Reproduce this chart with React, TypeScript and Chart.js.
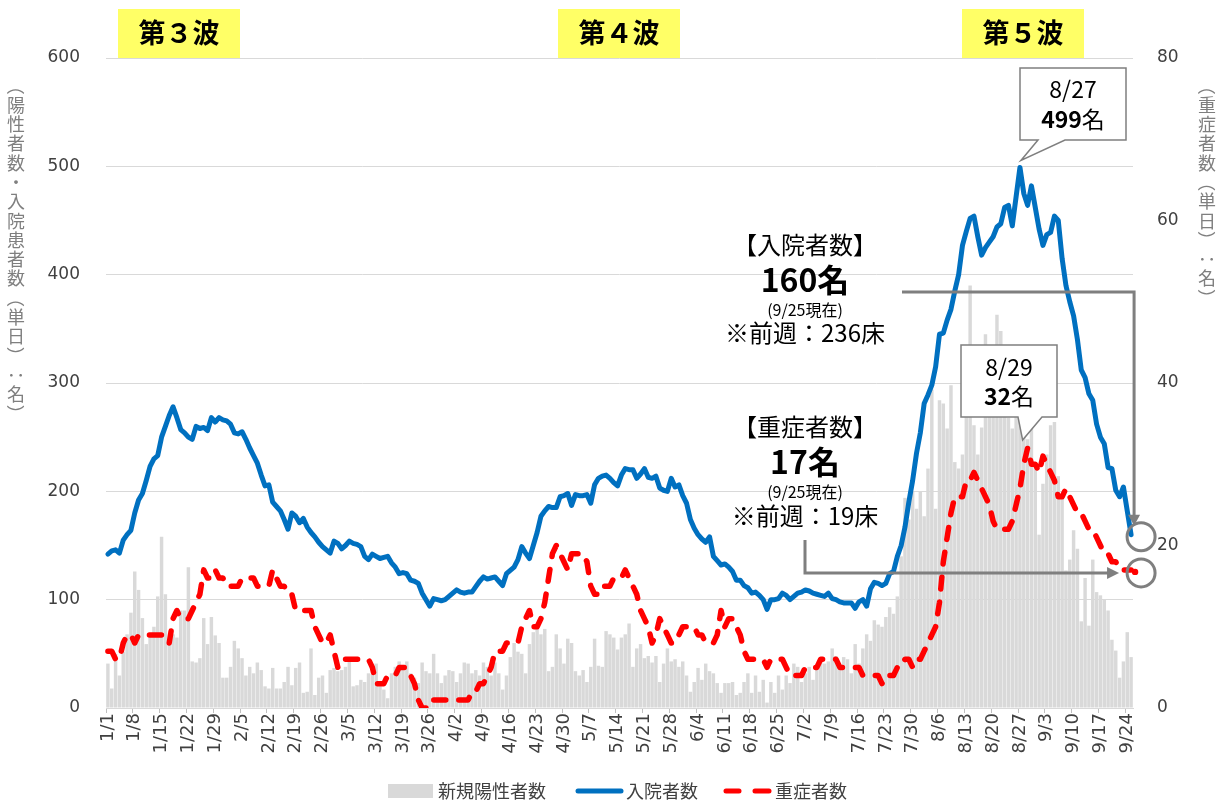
import React, { useEffect, useRef } from 'react';
import { Chart, registerables } from 'chart.js';

Chart.register(...registerables);

// ---- categories (daily, 1/1 .. 9/25) ----
const MONTH_LENGTHS = [31, 28, 31, 30, 31, 30, 31, 31, 25];
const dateLabels: string[] = [];
MONTH_LENGTHS.forEach((n, m) => {
  for (let d = 1; d <= n; d++) dateLabels.push(`${m + 1}/${d}`);
});

// ---- series: new positive cases (bars, left axis) ----
const newCases = [
  41, 18, 50, 30, 52, 68, 88, 126, 109, 83, 59, 68, 75, 103, 158, 105, 59, 68, 65, 90,
  90, 130, 43, 42, 46, 83, 59, 84, 67, 60, 28, 28, 38, 62, 55, 46, 30, 38, 32, 42,
  35, 20, 18, 37, 18, 18, 24, 38, 21, 37, 42, 14, 15, 55, 12,
  28, 30, 14, 35, 37, 34, 35, 38, 43, 20, 21, 26, 24, 32, 32, 41, 20, 17, 9, 32,
  38, 43, 37, 43, 32, 28, 23, 42, 34, 32, 50, 32, 23, 30, 35, 34, 24, 32, 42, 41,
  32, 35, 30, 42, 38, 30, 42, 32, 17, 30, 47, 60, 52,
  50, 32, 59, 70, 73, 68, 73, 34, 38, 68, 55, 41, 64, 60, 34, 30, 35, 24, 38, 64,
  39, 38, 71, 68, 65, 54, 65, 68, 78, 38, 55, 59, 46, 48, 42, 48, 24, 41, 55, 43,
  45, 38, 43, 30, 15, 24, 37, 26, 41, 34, 32, 23, 14, 23, 23, 24, 12,
  14, 24, 32, 14, 30, 15, 26, 5, 24, 14, 30, 17, 30, 23, 41, 38, 24, 32, 38, 26,
  39, 47, 41, 43, 55, 48, 39, 47, 45, 32, 59, 41, 55, 68, 62, 81, 77, 75, 84, 93, 87,
  103, 140, 194, 174, 200, 184, 200, 177, 221, 294, 184, 284, 281, 258, 298, 227, 221, 234, 281, 390,
  261, 234, 259, 345, 328, 335, 363, 348, 288, 268, 258, 281, 268, 251,
  248, 268, 221, 160, 207, 234, 261, 264, 214, 197, 127, 137, 164, 147, 80, 120, 76, 137, 107, 104,
  100, 90, 63, 53, 28, 43, 70, 47,
];

// ---- series: hospitalized (blue line, left axis) ----
const hospitalized = [
  142, 145, 146, 143, 155, 160, 164, 180, 192, 198,
  210, 223, 230, 233, 250, 260, 270, 278, 268, 257,
  254, 250, 248, 260, 258, 259, 256, 268, 264, 268,
  266, 265, 262, 254, 253, 255, 248, 240, 233, 226,
  215, 205, 206, 190, 186, 182, 174, 165, 180, 177,
  171, 175, 167, 162, 158, 153, 149, 146, 143, 154,
  152, 147, 150, 154, 152, 151, 149, 140, 137, 142,
  140, 138, 139, 140, 134, 130, 124, 125, 124, 118,
  117, 115, 106, 100, 94, 101, 100, 99, 100, 103,
  106, 109, 107, 106, 107, 107, 112, 117, 121, 119,
  120, 121, 117, 113, 124, 127, 130, 137, 149, 143,
  138, 150, 162, 177, 182, 186, 185, 185, 195, 196,
  198, 187, 197, 196, 196, 197, 189, 206, 212, 214,
  215, 212, 208, 205, 215, 221, 220, 220, 212, 216,
  221, 213, 212, 214, 203, 201, 200, 212, 204, 206,
  196, 189, 174, 166, 160, 156, 153, 158, 140, 136,
  132, 133, 130, 126, 118, 118, 113, 111, 106, 107,
  104, 100, 91, 100, 100, 101, 106, 104, 100, 103,
  106, 107, 109, 108, 106, 105, 104, 103, 106, 101,
  100, 98, 97, 97, 97, 92, 98, 100, 94, 110,
  116, 115, 113, 115, 124, 126, 140, 150, 167, 190,
  210, 235, 254, 281, 289, 298, 315, 345, 346, 358,
  368, 385, 400, 427, 440, 452, 454, 435, 418, 425,
  430, 435, 444, 447, 462, 464, 445, 472, 499, 475,
  464, 482, 462, 442, 427, 437, 439, 454, 450, 415,
  390, 375, 362, 340, 312, 305, 290, 284, 262, 250,
  244, 222, 221, 201, 195, 204, 182, 160,
];

// ---- series: severe cases (red dashed line, right axis) ----
const severe = [
  7, 7, 6, 6, 8, 9, 9, 8, 9, 9,
  9, 9, 9, 9, 9, 9, 8, 11, 12, 11,
  11, 11, 12, 13, 14, 17, 16, 16, 17, 16,
  16, 15, 15, 15, 15, 16, 16, 16, 16, 15,
  15, 15, 15, 17, 16, 15, 15, 14, 14, 12,
  12, 12, 12, 12, 10, 9, 8, 8, 9, 7,
  5, 5, 6, 6, 6, 6, 6, 6, 6, 5,
  3, 3, 3, 4, 4, 4, 5, 5, 5, 4,
  3, 1, 0, 0, 1, 1, 1, 1, 1, 1,
  1, 1, 1, 1, 1, 2, 2, 3, 3, 4,
  5, 7, 7, 7, 8, 8, 8, 8, 10, 11,
  12, 10, 10, 11, 13, 16, 19, 20, 19, 18,
  17, 19, 19, 19, 19, 18, 15, 14, 14, 15,
  15, 15, 16, 16, 16, 17, 16, 15, 14, 12,
  11, 10, 8, 9, 11, 10, 9, 8, 8, 9,
  10, 10, 10, 10, 9, 9, 8, 8, 8, 9,
  12, 10, 11, 11, 10, 9, 7, 6, 6, 6,
  6, 6, 5, 6, 6, 6, 6, 5, 4, 4,
  4, 4, 5, 5, 5, 5, 6, 6, 6, 6,
  6, 5, 5, 5, 5, 5, 5, 4, 4, 4,
  4, 4, 3, 4, 4, 4, 5, 5, 6, 6,
  5, 6, 6, 7, 8, 9, 10, 13, 18, 21,
  24, 26, 26, 26, 28, 28, 29, 28, 27, 26,
  25, 23, 22, 22, 22, 22, 23, 25, 27, 30,
  32, 30, 30, 29, 31, 30, 29, 28, 26, 26,
  27, 26, 25, 24, 24, 23, 22, 22, 21, 20,
  19, 19, 18, 18, 17, 17, 17, 17,
];

// ---- axis ticks / texts ----
const leftTicks = [0, 100, 200, 300, 400, 500, 600];
const rightTicks = [0, 20, 40, 60, 80];
const leftTitle = '（陽性者数・入院患者数（単日）：名）';
const rightTitle = '（重症者数（単日）：名）';
const waveLabels = ['第３波', '第４波', '第５波'];
const legendNames = ['新規陽性者数', '入院者数', '重症者数'];

const JP = '"Noto Sans CJK JP", "Noto Sans", sans-serif';
const NUM = '"DejaVu Sans", sans-serif';
const GRAY = '#7f7f7f';
const BLUE = '#0070c0';
const RED = '#ff0000';
const BAR = '#d9d9d9';

function drawRuns(ctx: CanvasRenderingContext2D, parts: [string, string][], cx: number, cy: number, color = '#000') {
  let total = 0;
  parts.forEach(([t, f]) => {
    ctx.font = f;
    total += ctx.measureText(t).width;
  });
  let x = cx - total / 2;
  ctx.textBaseline = 'middle';
  ctx.textAlign = 'left';
  ctx.fillStyle = color;
  parts.forEach(([t, f]) => {
    ctx.font = f;
    ctx.fillText(t, x, cy);
    x += ctx.measureText(t).width;
  });
}

function drawVertical(ctx: CanvasRenderingContext2D, text: string, cx: number, top: number, pitch: number) {
  ctx.save();
  ctx.font = `18px ${JP}`;
  ctx.fillStyle = GRAY;
  ctx.textAlign = 'center';
  ctx.textBaseline = 'middle';
  Array.from(text).forEach((ch, i) => {
    const cy = top + pitch * (i + 0.5);
    if ('（）：'.includes(ch)) {
      ctx.save();
      ctx.translate(cx, cy);
      ctx.rotate(Math.PI / 2);
      ctx.fillText(ch, 0, 0);
      ctx.restore();
    } else {
      ctx.fillText(ch, cx, cy);
    }
  });
  ctx.restore();
}

function callout(
  ctx: CanvasRenderingContext2D,
  l: number, t: number, r: number, b: number,
  p1: number, p2: number, tx: number, ty: number,
) {
  ctx.save();
  ctx.beginPath();
  ctx.moveTo(l, t);
  ctx.lineTo(r, t);
  ctx.lineTo(r, b);
  ctx.lineTo(p2, b);
  ctx.lineTo(tx, ty);
  ctx.lineTo(p1, b);
  ctx.lineTo(l, b);
  ctx.closePath();
  ctx.fillStyle = '#ffffff';
  ctx.fill();
  ctx.strokeStyle = GRAY;
  ctx.lineWidth = 1.5;
  ctx.stroke();
  ctx.restore();
}

const decorPlugin = {
  id: 'decor',
  afterDraw(chart: any) {
    const ctx: CanvasRenderingContext2D = chart.ctx;
    const xs = chart.scales.x;
    const ys = chart.scales.y;
    const y1s = chart.scales.y1;
    ctx.save();

    // wave labels
    const waveBoxes = [118, 558, 962];
    waveLabels.forEach((w, i) => {
      const l = waveBoxes[i];
      ctx.fillStyle = '#ffff66';
      ctx.fillRect(l, 9, 122, 49);
      drawRuns(ctx, [[w, `bold 27px ${JP}`]], l + 61, 33);
    });

    // axis titles (vertical writing)
    drawVertical(ctx, leftTitle, 16, 76, 19.3);
    drawVertical(ctx, rightTitle, 1207, 76, 19.3);

    const lastIdx = hospitalized.length - 1;
    const lastX = xs.getPixelForValue(lastIdx);
    const hospY = ys.getPixelForValue(hospitalized[lastIdx]);
    const sevY = y1s.getPixelForValue(severe[lastIdx]);

    // connectors
    ctx.strokeStyle = GRAY;
    ctx.fillStyle = GRAY;
    ctx.lineWidth = 3;
    const ax = lastX + 3;
    ctx.beginPath();
    ctx.moveTo(902, 292);
    ctx.lineTo(ax, 292);
    ctx.lineTo(ax, hospY - 18);
    ctx.stroke();
    ctx.beginPath();
    ctx.moveTo(ax - 6, hospY - 20);
    ctx.lineTo(ax + 6, hospY - 20);
    ctx.lineTo(ax, hospY - 9);
    ctx.closePath();
    ctx.fill();

    const by = sevY + 3;
    ctx.beginPath();
    ctx.moveTo(805, 540);
    ctx.lineTo(805, by);
    ctx.lineTo(lastX - 22, by);
    ctx.stroke();
    ctx.beginPath();
    ctx.moveTo(lastX - 24, by - 6);
    ctx.lineTo(lastX - 24, by + 6);
    ctx.lineTo(lastX - 12, by);
    ctx.closePath();
    ctx.fill();

    ctx.lineWidth = 3;
    ctx.beginPath();
    ctx.arc(lastX + 10, hospY + 2, 14, 0, Math.PI * 2);
    ctx.stroke();
    ctx.beginPath();
    ctx.arc(lastX + 10, sevY + 3, 14, 0, Math.PI * 2);
    ctx.stroke();

    // end dot of the severe series
    ctx.fillStyle = RED;
    ctx.beginPath();
    ctx.arc(lastX + 4, sevY + 2, 3.2, 0, Math.PI * 2);
    ctx.fill();

    // callouts
    const peakIdx = 238;
    const px = xs.getPixelForValue(peakIdx);
    const py = ys.getPixelForValue(hospitalized[peakIdx]);
    callout(ctx, 1020, 68, 1126, 140, 1038, 1065, px + 1, py - 7);
    drawRuns(ctx, [['8/27', `23px ${JP}`]], 1073, 89);
    drawRuns(ctx, [['499', `bold 23px ${JP}`], ['名', `23px ${JP}`]], 1073, 119);

    const sIdx = 240;
    const sx = xs.getPixelForValue(sIdx);
    const sy = y1s.getPixelForValue(severe[sIdx]);
    callout(ctx, 961, 345, 1057, 417, 1018, 1042, sx - 5, sy - 8);
    drawRuns(ctx, [['8/29', `23px ${JP}`]], 1009, 367);
    drawRuns(ctx, [['32', `bold 23px ${JP}`], ['名', `23px ${JP}`]], 1009, 396);

    // text blocks
    const cx = 805;
    drawRuns(ctx, [['【入院者数】', `24px ${JP}`]], cx, 245);
    drawRuns(ctx, [['160名', `bold 32px ${JP}`]], cx, 280);
    drawRuns(ctx, [['(9/25現在)', `16px ${JP}`]], cx, 310);
    drawRuns(ctx, [['※前週：236床', `24px ${JP}`]], cx, 333);

    drawRuns(ctx, [['【重症者数】', `24px ${JP}`]], cx, 427);
    drawRuns(ctx, [['17名', `bold 32px ${JP}`]], cx, 462);
    drawRuns(ctx, [['(9/25現在)', `16px ${JP}`]], cx, 492);
    drawRuns(ctx, [['※前週：19床', `24px ${JP}`]], cx, 516);

    // legend
    const ly = 791;
    ctx.fillStyle = BAR;
    ctx.fillRect(388, ly - 7, 45, 14);
    ctx.font = `18px ${JP}`;
    ctx.fillStyle = '#404040';
    ctx.textBaseline = 'middle';
    ctx.textAlign = 'left';
    ctx.fillText(legendNames[0], 438, ly);
    ctx.strokeStyle = BLUE;
    ctx.lineWidth = 5;
    ctx.lineCap = 'round';
    ctx.beginPath();
    ctx.moveTo(578, ly);
    ctx.lineTo(621, ly);
    ctx.stroke();
    ctx.fillText(legendNames[1], 626, ly);
    ctx.strokeStyle = RED;
    ctx.beginPath();
    ctx.moveTo(726, ly);
    ctx.lineTo(739, ly);
    ctx.moveTo(755, ly);
    ctx.lineTo(769, ly);
    ctx.stroke();
    ctx.fillText(legendNames[2], 775, ly);

    ctx.restore();
  },
};

export default function App() {
  const ref = useRef<HTMLCanvasElement>(null);
  useEffect(() => {
    const canvas = ref.current;
    if (!canvas) return;
    const chart = new Chart(canvas, {
      type: 'bar',
      data: {
        labels: dateLabels,
        datasets: [
          {
            type: 'line',
            label: legendNames[2],
            data: severe,
            yAxisID: 'y1',
            borderColor: RED,
            backgroundColor: RED,
            borderWidth: 5.5,
            borderDash: [12, 13],
            borderCapStyle: 'round',
            borderJoinStyle: 'round',
            pointRadius: 0,
            tension: 0,
            order: 1,
          } as any,
          {
            type: 'line',
            label: legendNames[1],
            data: hospitalized,
            yAxisID: 'y',
            borderColor: BLUE,
            backgroundColor: BLUE,
            borderWidth: 5,
            borderJoinStyle: 'round',
            borderCapStyle: 'round',
            pointRadius: 0,
            tension: 0,
            order: 2,
          } as any,
          {
            type: 'bar',
            label: legendNames[0],
            data: newCases,
            yAxisID: 'y',
            backgroundColor: BAR,
            barPercentage: 0.9,
            categoryPercentage: 1,
            order: 3,
          } as any,
        ],
      },
      options: {
        responsive: false,
        animation: false,
        devicePixelRatio: 1,
        layout: { padding: { top: 58, left: 0, right: 0, bottom: 30 } },
        plugins: {
          legend: { display: false },
          tooltip: { enabled: false },
        },
        scales: {
          x: {
            offset: true,
            afterFit: (s: any) => { s.height = 64; },
            grid: {
              offset: true,
              drawOnChartArea: false,
              drawTicks: true,
              tickLength: 5,
              color: (c: any) => (c.index % 7 === 0 ? '#bfbfbf' : 'rgba(0,0,0,0)'),
            },
            border: { display: true, color: '#d9d9d9', width: 1 },
            ticks: {
              autoSkip: false,
              maxRotation: 90,
              minRotation: 90,
              padding: 0,
              color: '#404040',
              font: { family: NUM, size: 18 },
              callback: (_v: any, i: number) => (i % 7 === 0 ? dateLabels[i] : ''),
            },
          },
          y: {
            position: 'left',
            min: 0,
            max: 600,
            afterFit: (s: any) => { s.width = 106; },
            afterBuildTicks: (s: any) => { s.ticks = leftTicks.map((v) => ({ value: v })); },
            grid: { color: '#d9d9d9', drawTicks: false },
            border: { display: false },
            ticks: {
              padding: 26,
              color: '#404040',
              font: { family: NUM, size: 17 },
            },
          },
          y1: {
            position: 'right',
            min: 0,
            max: 80,
            afterFit: (s: any) => { s.width = 91; },
            afterBuildTicks: (s: any) => { s.ticks = rightTicks.map((v) => ({ value: v })); },
            grid: { drawOnChartArea: false, drawTicks: false },
            border: { display: false },
            ticks: {
              padding: 24,
              color: '#404040',
              font: { family: NUM, size: 17 },
            },
          },
        },
      } as any,
      plugins: [decorPlugin],
    });
    return () => chart.destroy();
  }, []);

  return (
    <div style={{ position: 'fixed', left: 0, top: 0, width: 1224, height: 802, background: '#ffffff' }}>
      <canvas ref={ref} width={1224} height={802} style={{ display: 'block', width: 1224, height: 802 }} />
    </div>
  );
}
